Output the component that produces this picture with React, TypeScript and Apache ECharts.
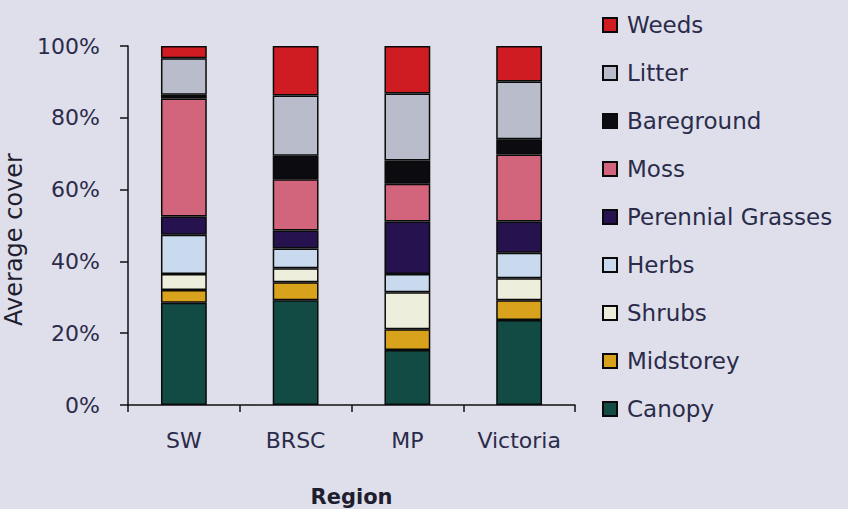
import React, { useEffect, useRef } from "react";
import * as echarts from "echarts";

const regions = ["SW", "BRSC", "MP", "Victoria"];
const canopy = [28.5, 29.2, 15.3, 23.7];
const midstorey = [3.5, 5.0, 5.8, 5.5];
const shrubs = [4.5, 3.9, 10.3, 6.1];
const herbs = [10.9, 5.5, 5.1, 7.1];
const perennialGrasses = [5.1, 5.0, 14.6, 8.7];
const moss = [32.9, 14.3, 10.5, 18.7];
const bareground = [1.0, 6.5, 6.5, 4.2];
const litter = [10.2, 16.8, 18.7, 16.1];
const weeds = [3.4, 13.8, 13.2, 9.9];
const yTicks = [0, 20, 40, 60, 80, 100];

const seriesDefs = [
  { name: "Canopy", data: canopy, color: "#124a44" },
  { name: "Midstorey", data: midstorey, color: "#d9a21c" },
  { name: "Shrubs", data: shrubs, color: "#eeeedd" },
  { name: "Herbs", data: herbs, color: "#c9daee" },
  { name: "Perennial Grasses", data: perennialGrasses, color: "#25124e" },
  { name: "Moss", data: moss, color: "#d2647c" },
  { name: "Bareground", data: bareground, color: "#0b0b10" },
  { name: "Litter", data: litter, color: "#b9bccb" },
  { name: "Weeds", data: weeds, color: "#cf1b22" },
];

export default function App() {
  const ref = useRef<HTMLDivElement>(null);
  useEffect(() => {
    if (!ref.current) return;
    const chart = echarts.init(ref.current, null, { renderer: "svg" });
    const font = "'DejaVu Sans', Verdana, sans-serif";
    const textColor = "#2b2b4a";
    chart.setOption({
      animation: false,
      backgroundColor: "#dedfea",
      textStyle: { fontFamily: font },
      grid: { left: 128, top: 46, right: 273, bottom: 104, containLabel: false, outerBoundsMode: "none" },
      legend: {
        orient: "vertical",
        left: 597,
        top: 8,
        itemWidth: 14,
        itemHeight: 14,
        itemGap: 24,
        icon: "rect",
        data: seriesDefs.map((s) => s.name).reverse(),
        textStyle: { fontSize: 23, color: textColor, lineHeight: 24, fontFamily: font, padding: [0, 0, 0, 5] },
      },
      xAxis: {
        type: "category",
        data: regions,
        name: "Region",
        nameLocation: "middle",
        nameGap: 81,
        nameTextStyle: { fontSize: 21, fontWeight: "bold", color: "#1e1e30", fontFamily: font },
        axisLine: { lineStyle: { color: "#111", width: 1.5 } },
        axisTick: { show: true, length: 7, lineStyle: { color: "#111", width: 1.5 } },
        axisLabel: { interval: 0, hideOverlap: false, fontSize: 22, color: textColor, margin: 24, fontFamily: font },
      },
      yAxis: {
        type: "value",
        min: 0,
        max: 100,
        interval: 20,
        name: "Average cover",
        nameLocation: "middle",
        nameGap: 91,
        nameTextStyle: { fontSize: 24, color: "#1e1e30", fontFamily: font, padding: [0, 0, 0, -28] },
        axisLine: { show: true, lineStyle: { color: "#111", width: 1.5 } },
        axisTick: { show: true, length: 8, lineStyle: { color: "#111", width: 1.5 } },
        splitLine: { show: false },
        axisLabel: {
          fontSize: 22,
          color: textColor,
          margin: 28,
          fontFamily: font,
          formatter: (v: number) => (yTicks.includes(v) ? v + "%" : ""),
        },
      },
      series: seriesDefs.map((s) => ({
        name: s.name,
        type: "bar",
        stack: "total",
        barWidth: "41%",
        data: s.data,
        itemStyle: { color: s.color, borderColor: "#0a0a0a", borderWidth: 1.5 },
      })),
    });
    return () => chart.dispose();
  }, []);
  return <div ref={ref} style={{ width: 848, height: 509, position: "absolute", left: 0, top: 0 }} />;
}
